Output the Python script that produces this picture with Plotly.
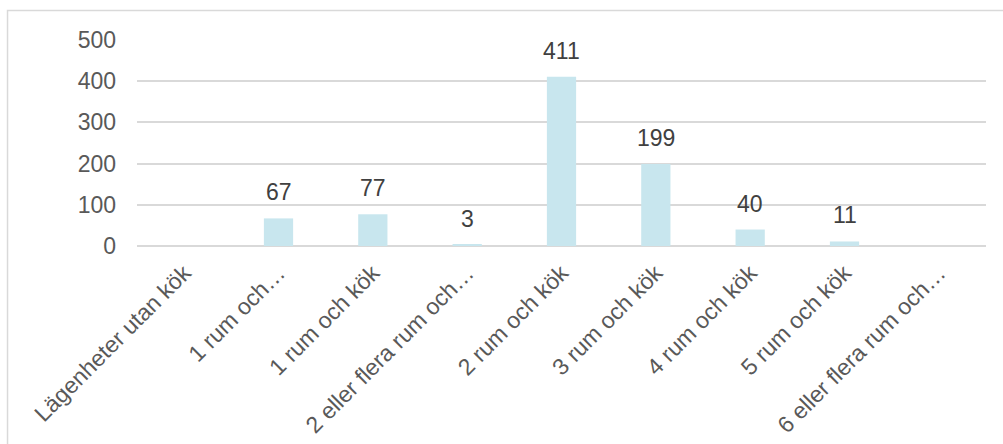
import plotly.graph_objects as go

categories = [
    "Lägenheter utan kök",
    "1 rum och…",
    "1 rum och kök",
    "2 eller flera rum och…",
    "2 rum och kök",
    "3 rum och kök",
    "4 rum och kök",
    "5 rum och kök",
    "6 eller flera rum och…",
]
values = [None, 67, 77, 3, 411, 199, 40, 11, None]
y_ticks = [0, 100, 200, 300, 400, 500]

FONT = "Liberation Sans, Arial, sans-serif"

fig = go.Figure()
fig.add_trace(go.Bar(
    x=list(range(len(categories))),
    y=values,
    width=0.31,
    marker=dict(color="#C8E6EE", line=dict(width=0)),
    hoverinfo="skip",
))

for i, v in enumerate(values):
    if v is None:
        continue
    fig.add_annotation(
        x=i, y=v, text=str(v), showarrow=False,
        xref="x", yref="y", yanchor="bottom", yshift=11,
        font=dict(family=FONT, size=23, color="#404040"),
    )

# outer chart border (top and left visible)
fig.add_shape(type="rect", xref="paper", yref="paper",
              x0=-0.1525, x1=1.2, y0=-1.3, y1=1.1435,
              line=dict(color="#D9D9D9", width=1.5), fillcolor="rgba(0,0,0,0)",
              layer="below")

fig.update_layout(
    width=1003, height=444,
    margin=dict(l=137, r=17, t=40, b=198),
    paper_bgcolor="white", plot_bgcolor="white",
    showlegend=False,
    font=dict(family=FONT, size=23, color="#595959"),
    xaxis=dict(
        tickmode="array",
        tickvals=list(range(len(categories))),
        ticktext=categories,
        range=[-0.5, len(categories) - 0.5],
        tickangle=-45,
        showgrid=False,
        showline=False,
        zeroline=False,
        ticks="",
        automargin=False,
        ticklabelstandoff=8,
        tickfont=dict(family=FONT, size=23, color="#595959"),
    ),
    yaxis=dict(
        range=[0, 500],
        tickvals=y_ticks,
        showgrid=True,
        gridcolor="#D9D9D9",
        gridwidth=1.5,
        zeroline=True,
        zerolinecolor="#D9D9D9",
        zerolinewidth=1.5,
        showline=False,
        ticks="",
        automargin=False,
        ticklabelstandoff=20,
        tickfont=dict(family=FONT, size=23, color="#595959"),
    ),
)

fig.write_html(
    "out.html",
    config={"displayModeBar": False},
    post_script="document.body.style.margin='0';document.body.style.overflow='hidden';",
)
